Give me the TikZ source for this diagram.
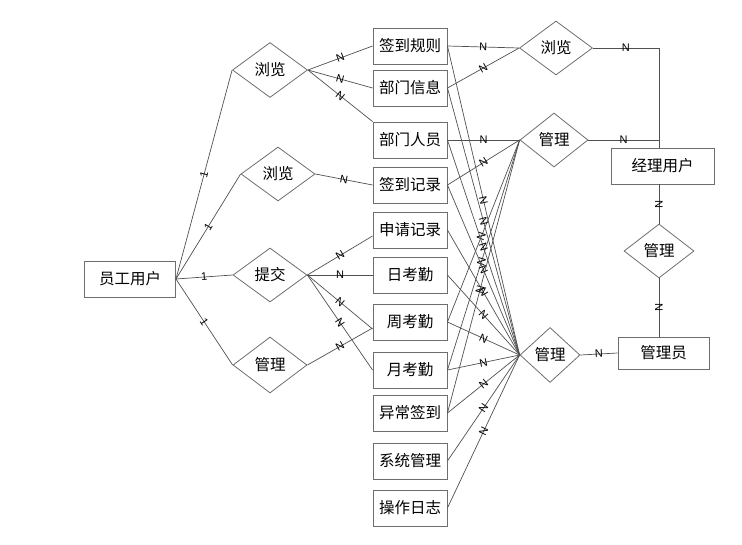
\documentclass[tikz,border=0pt]{standalone}
\usepackage{fontspec}
\setmainfont{Noto Sans CJK SC}
\newfontfamily\lab{Liberation Sans}
\usetikzlibrary{shapes.geometric,calc}
\definecolor{boxc}{RGB}{110,110,110}
\definecolor{linec}{RGB}{80,80,80}
\begin{document}
\begin{tikzpicture}[x=1pt,y=-1pt,
  ent/.style={draw=boxc, line width=0.9pt, minimum width=74pt, minimum height=36pt, inner sep=0pt, font=\fontsize{15.5}{18}\selectfont},
  rel/.style={draw=boxc, line width=0.8pt, diamond, inner sep=0pt, font=\fontsize{15.5}{18}\selectfont},
  conn/.style={draw=linec, line width=0.7pt},
  card/.style={font=\lab\fontsize{11}{12}\selectfont, sloped, inner sep=0.3pt, midway}
]
\useasboundingbox (0,0) rectangle (742,544);

% entities
\node[ent] (e1) at (410,46) {签到规则};
\node[ent] (e2) at (410,88) {部门信息};
\node[ent] (e3) at (410,140) {部门人员};
\node[ent] (e4) at (410,185) {签到记录};
\node[ent] (e5) at (410,230) {申请记录};
\node[ent] (e6) at (410,275) {日考勤};
\node[ent] (e7) at (410,322) {周考勤};
\node[ent] (e8) at (410,370) {月考勤};
\node[ent] (e9) at (410,413) {异常签到};
\node[ent] (e10) at (410,461) {系统管理};
\node[ent] (e11) at (410,508) {操作日志};

\node[ent, minimum width=91pt] (yg) at (130,279) {员工用户};
\node[ent, minimum width=103pt] (jl) at (662.5,166) {经理用户};
\node[ent, minimum width=91pt, minimum height=32pt] (gly) at (663.5,353) {管理员};

% relationships
\node[rel, minimum width=75pt, minimum height=55pt] (d1) at (270,70) {浏览};
\node[rel, minimum width=74pt, minimum height=54pt] (d2) at (278,174) {浏览};
\node[rel, minimum width=74pt, minimum height=54pt] (d3) at (270,275) {提交};
\node[rel, minimum width=74pt, minimum height=56pt] (d4) at (270,365) {管理};
\node[rel, minimum width=73pt, minimum height=54pt] (d5) at (556,48) {浏览};
\node[rel, minimum width=68pt, minimum height=54pt] (d6) at (554,140) {管理};
\node[rel, minimum width=60pt, minimum height=55pt] (d7) at (550,355) {管理};
\node[rel, minimum width=70pt, minimum height=54pt] (d8) at (659,251) {管理};

% employee user
\draw[conn] (yg.east) -- node[card]{1} (d1.west);
\draw[conn] (yg.east) -- node[card]{1} (d2.west);
\draw[conn] (yg.east) -- node[card]{1} (d3.west);
\draw[conn] (yg.east) -- node[card]{1} (d4.west);

% left relationships to entities
\draw[conn] (d1.east) -- node[card]{N} (e1.west);
\draw[conn] (d1.east) -- node[card]{N} (e2.west);
\draw[conn] (d1.east) -- node[card]{N} (e3.north west);
\draw[conn] (d2.east) -- node[card]{N} (e4.west);
\draw[conn] (d3.east) -- node[card]{N} ($(e5.west)+(0,6)$);
\draw[conn] (d3.east) -- node[card]{N} (e6.west);
\draw[conn] (d3.east) -- node[card]{N} ($(e7.west)+(0,7)$);
\draw[conn] (d3.east) -- node[card]{N} (e8.west);
\draw[conn] (d4.east) -- node[card]{N} ($(e7.west)+(0,6)$);

% right: manager browse
\draw[conn] (e1.east) -- node[card]{N} (d5.west);
\draw[conn] (e2.east) -- node[card]{N} (d5.west);
% manager manage
\draw[conn] (e3.east) -- node[card]{N} (d6.west);
\draw[conn] (e4.east) -- node[card]{N} (d6.west);
\draw[conn] (e7.east) -- node[card,pos=0.47]{N} (d6.west);
\draw[conn] (e8.east) -- node[card,pos=0.47]{N} (d6.west);
\draw[conn] (e9.east) -- node[card,pos=0.45]{N} (d6.west);
% admin manage
\foreach \e in {e1,e2,e3,e4,e5,e6,e7,e8,e9,e10,e11}
  \draw[conn] (\e.east) -- node[card]{N} (d7.west);

% manager user links
\draw[conn] (d5.east) -| node[card,pos=0.25]{N} (d8.north |- jl.north);
\draw[conn] (d6.east) -- node[card]{N} (d6.east -| d8.north);
\draw[conn] (d8.north |- jl.south) -- node[card]{N} (d8.north);
\draw[conn] (d8.south) -- node[card]{N} (d8.south |- gly.north);
\draw[conn] (d7.east) -- node[card]{N} (gly.west);
\end{tikzpicture}
\end{document}
